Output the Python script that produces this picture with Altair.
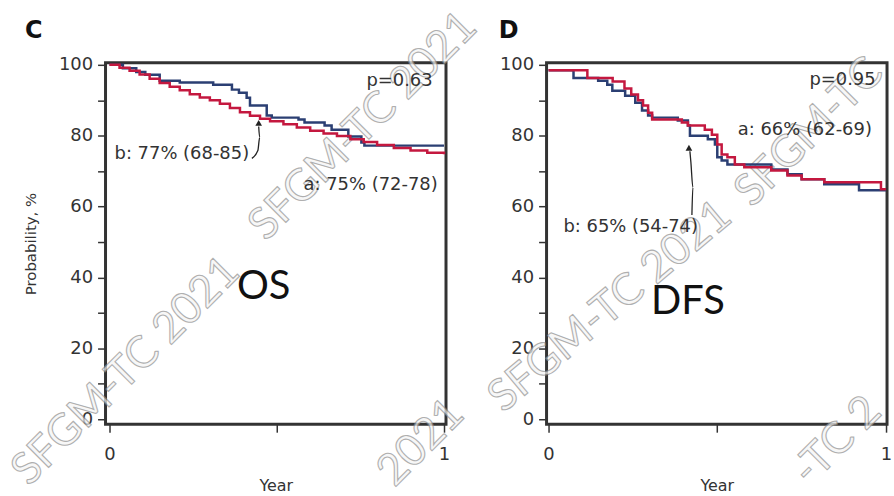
import altair as alt
import pandas as pd

# ---------------- data ----------------
# OS, group a (red) and group b (blue): step curves, time in years, survival %
os_a_t = [0, 0.03, 0.06, 0.09, 0.12, 0.15, 0.18, 0.21, 0.24, 0.27, 0.30, 0.33, 0.36, 0.39,
          0.42, 0.45, 0.48, 0.52, 0.56, 0.60, 0.64, 0.68, 0.72, 0.76, 0.80, 0.85, 0.90, 0.95, 1.0]
os_a_v = [100, 99.2, 98.3, 97.3, 96.1, 94.9, 93.8, 92.8, 91.7, 90.8, 90.0, 89.0, 87.8, 86.6,
          85.6, 84.8, 84.1, 83.2, 82.3, 81.4, 80.6, 79.9, 79.0, 78.2, 77.4, 76.5, 75.8, 75.2, 74.8]
os_b_t = [0, 0.04, 0.08, 0.107, 0.15, 0.21, 0.31, 0.366, 0.387, 0.41, 0.42, 0.47, 0.485,
          0.565, 0.583, 0.643, 0.664, 0.714, 0.753, 0.762, 1.0]
os_b_v = [100, 99.0, 98.0, 97.2, 95.5, 95.0, 94.4, 93.0, 92.1, 90.7, 88.5, 85.7, 85.1,
          84.6, 83.7, 82.9, 81.7, 79.8, 78.1, 77.2, 77.2]

# DFS
dfs_a_t = [0, 0.115, 0.19, 0.225, 0.245, 0.265, 0.28, 0.295, 0.307, 0.395, 0.413, 0.463, 0.484,
           0.50, 0.513, 0.53, 0.552, 0.58, 0.66, 0.708, 0.75, 0.817, 0.985, 1.0]
dfs_a_v = [98.5, 96.3, 95.3, 93.3, 91.6, 90.0, 88.5, 86.5, 84.6, 83.7, 82.9, 81.7, 80.3,
           77.5, 74.7, 73.9, 71.9, 71.1, 70.2, 68.8, 67.7, 66.9, 64.9, 64.9]
dfs_b_t = [0, 0.074, 0.147, 0.174, 0.189, 0.227, 0.257, 0.277, 0.295, 0.307, 0.383, 0.413, 0.419,
           0.472, 0.493, 0.50, 0.513, 0.53, 0.66, 0.708, 0.75, 0.817, 0.92, 1.0]
dfs_b_v = [98.5, 96.3, 95.5, 94.4, 92.7, 91.3, 89.3, 87.1, 85.7, 85.1, 84.3, 82.9, 80.0,
           79.0, 77.5, 73.9, 73.0, 71.9, 70.5, 69.1, 67.7, 66.3, 64.6, 64.6]

# annotations (data coordinates: year, %)
os_ann_text = ["p=0.63", "b: 77% (68-85)", "a: 75% (72-78)"]
os_ann_t = [0.768, 0.015, 0.580]
os_ann_v = [95.5, 74.7, 66.0]
os_arrow_t = [0.4256, 0.4435, 0.449, 0.446]
os_arrow_v = [73.6, 75.8, 79.5, 82.6]
os_head = ([0.446], [83.6])

dfs_ann_text = ["p=0.95", "a: 66% (62-69)", "b: 65% (54-74)"]
dfs_ann_t = [0.773, 0.5605, 0.044]
dfs_ann_v = [95.8, 81.7, 54.2]
dfs_arrow_t = [0.4248, 0.4277, 0.4218, 0.4189]
dfs_arrow_v = [57.6, 65.4, 72.5, 75.6]
dfs_head = ([0.416], [76.6])

os_big = (["OS"], [0.461], [34.0])
dfs_big = (["DFS"], [0.413], [29.8])
panel_letters = (["C"], [-0.253], [107.6]), (["D"], [-0.1475], [107.6])

# watermark texts (background decoration)
wm_left_text = ["SFGM-TC 2021", "SFGM-TC 2021", "2021"]
wm_left_t = [0.759, 0.050, 0.932]
wm_left_v = [82.6, 13.5, -6.7]
wm_left_ang = [315, 315, 315]
wm_right_text = ["SFGM-TC 2021", "SFGM-TC", "-TC 2"]
wm_right_t = [0.183, 0.773, 0.856]
wm_right_v = [31.7, 80.9, -6.2]
wm_right_ang = [320, 315, 315]

# layout anchor (top-left corner of the figure, invisible)
anchor_t = [-0.3185]
anchor_v = [117.4]

BLUE = "#2b3f73"
RED = "#c4183f"
INK = "#333333"
FONT = "DejaVu Sans"

X_LEFT = [-0.0119, 1.006]
X_RIGHT = [-0.0059, 1.003]
Y_DOM = [-1.40, 100.56]


def enc_x(dom):
    return alt.X(
        "t:Q",
        scale=alt.Scale(domain=dom, nice=False, zero=False),
        axis=alt.Axis(
            values=[0, 0.5, 1],
            labelExpr="datum.value == 0 ? '0' : (datum.value == 1 ? '1' : '')",
            title="Year", tickSize=8, tickWidth=1.5, tickColor=INK, labelPadding=13,
            labelFontSize=18, labelFont=FONT, labelColor=INK, labelOverlap=False,
            labelFlush=False, titleFontSize=16, titleFont=FONT, titleFontWeight="normal",
            titleColor=INK, titlePadding=15, domain=False, grid=False),
    )


def enc_y(title):
    return alt.Y(
        "v:Q",
        scale=alt.Scale(domain=Y_DOM, nice=False, zero=False),
        axis=alt.Axis(
            values=list(range(0, 101, 10)),
            labelExpr="datum.value % 20 == 0 ? format(datum.value, 'd') : ''",
            title=title, tickSize=8, tickWidth=1.5, tickColor=INK, labelPadding=5,
            labelFontSize=18, labelFont=FONT, labelColor=INK, labelOverlap=False,
            titleFontSize=15, titleFont=FONT, titleFontWeight="normal", titleColor=INK,
            titlePadding=20, domain=False, grid=False),
    )


def build_panel(xdom, ytitle, a_t, a_v, b_t, b_v, ann, arrow, head, big, letter,
                wm, with_anchor):
    X = enc_x(xdom)
    Y = enc_y(ytitle)
    layers = []
    if with_anchor:
        layers.append(
            alt.Chart(pd.DataFrame({"t": anchor_t, "v": anchor_v}))
            .mark_square(size=1, opacity=0, filled=True)
            .encode(x=X, y=Y))
    wm_df = pd.DataFrame({"t": wm[1], "v": wm[2], "label": wm[0], "ang": wm[3]})
    layers.append(
        alt.Chart(wm_df).mark_text(font="Lato", fontSize=44, fill="#f4f4f4", stroke="#8e8e8e",
                                   strokeWidth=1.1, opacity=0.7, align="center",
                                   baseline="middle")
        .encode(x=X, y=Y, text="label:N", angle=alt.Angle("ang:Q", scale=None)))
    layers.append(
        alt.Chart(pd.DataFrame({"t": b_t, "v": b_v}))
        .mark_line(interpolate="step-after", color=BLUE, strokeWidth=2.5)
        .encode(x=X, y=Y))
    layers.append(
        alt.Chart(pd.DataFrame({"t": a_t, "v": a_v}))
        .mark_line(interpolate="step-after", color=RED, strokeWidth=2.5)
        .encode(x=X, y=Y))
    layers.append(
        alt.Chart(pd.DataFrame({"t": arrow[0], "v": arrow[1], "i": list(range(len(arrow[0])))}))
        .mark_line(color="#222222", strokeWidth=1.3, interpolate="monotone")
        .encode(x=X, y=Y, order="i:Q"))
    layers.append(
        alt.Chart(pd.DataFrame({"t": head[0], "v": head[1]}))
        .mark_point(shape="triangle-up", filled=True, size=45, color="#222222", opacity=1)
        .encode(x=X, y=Y))
    layers.append(
        alt.Chart(pd.DataFrame({"t": ann[1], "v": ann[2], "label": ann[0]}))
        .mark_text(font=FONT, fontSize=18, color=INK, align="left", baseline="middle")
        .encode(x=X, y=Y, text="label:N"))
    layers.append(
        alt.Chart(pd.DataFrame({"t": big[1], "v": big[2], "label": big[0]}))
        .mark_text(font="Lato", fontSize=40, color="#111111", align="center",
                   baseline="alphabetic")
        .encode(x=X, y=Y, text="label:N"))
    layers.append(
        alt.Chart(pd.DataFrame({"t": letter[1], "v": letter[2], "label": letter[0]}))
        .mark_text(font=FONT, fontSize=24, fontWeight="bold", color="#111111", align="left",
                   baseline="alphabetic")
        .encode(x=X, y=Y, text="label:N"))
    return alt.layer(*layers).properties(width=342, height=363)


left = build_panel(X_LEFT, "Probability, %", os_a_t, os_a_v, os_b_t, os_b_v,
                   (os_ann_text, os_ann_t, os_ann_v), (os_arrow_t, os_arrow_v), os_head,
                   os_big, panel_letters[0],
                   (wm_left_text, wm_left_t, wm_left_v, wm_left_ang), True)
right = build_panel(X_RIGHT, "", dfs_a_t, dfs_a_v, dfs_b_t, dfs_b_v,
                    (dfs_ann_text, dfs_ann_t, dfs_ann_v), (dfs_arrow_t, dfs_arrow_v), dfs_head,
                    dfs_big, panel_letters[1],
                    (wm_right_text, wm_right_t, wm_right_v, wm_right_ang), False)

chart = (
    alt.hconcat(left, right, spacing=101, bounds="flush")
    .properties(padding={"left": 0, "top": 0, "right": 0, "bottom": 0})
    .configure(background="white")
    .configure_view(stroke="#333333", strokeWidth=3)
)

chart.save("out.html", embed_options={"renderer": "svg", "actions": False})
